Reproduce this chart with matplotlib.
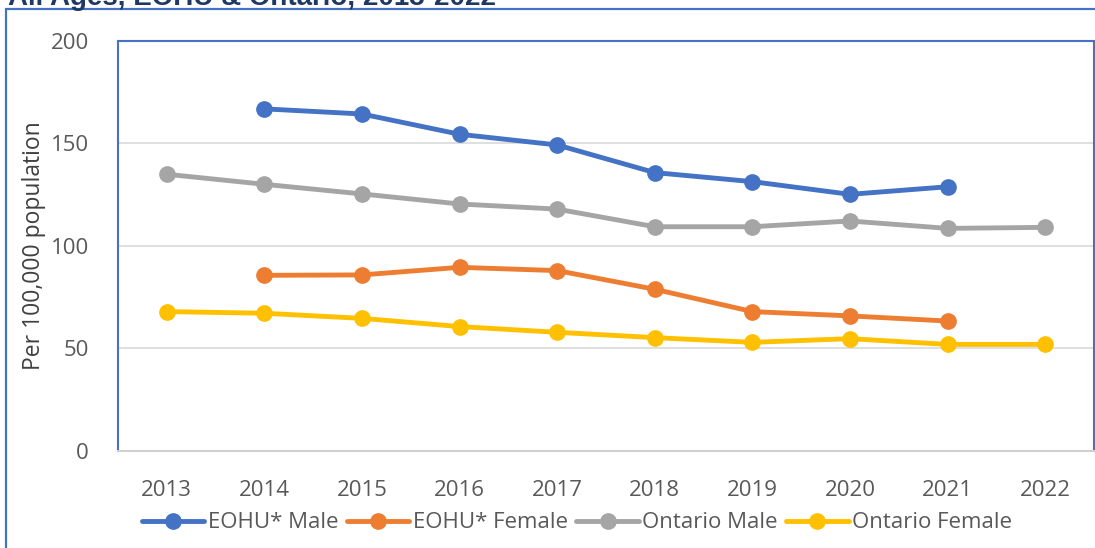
import matplotlib.pyplot as plt
from matplotlib.patches import Rectangle

# Rates per 100,000 population
years = [2013, 2014, 2015, 2016, 2017, 2018, 2019, 2020, 2021, 2022]
eohu_male = [None, 166.8, 164.3, 154.4, 149.2, 135.7, 131.3, 125.1, 128.8, None]
eohu_female = [None, 85.6, 85.8, 89.5, 87.9, 78.8, 67.9, 65.8, 63.3, None]
ontario_male = [134.9, 130.0, 125.3, 120.4, 117.9, 109.3, 109.3, 112.1, 108.5, 109.0]
ontario_female = [67.9, 67.1, 64.6, 60.6, 57.8, 55.2, 52.9, 54.7, 51.9, 51.9]

series = [
    ("EOHU* Male", eohu_male, "#4472C4"),
    ("EOHU* Female", eohu_female, "#ED7D31"),
    ("Ontario Male", ontario_male, "#A5A5A5"),
    ("Ontario Female", ontario_female, "#FFC000"),
]

plt.rcParams['font.family'] = ['Open Sans', 'DejaVu Sans']

W, H = 1095, 548
fig = plt.figure(figsize=(W / 100, H / 100), dpi=100)
ax = fig.add_axes([118 / W, (H - 450.8) / H, (1094 - 118) / W, (450.8 - 40.8) / H])

for name, vals, col in series:
    xs = [y for y, v in zip(years, vals) if v is not None]
    ys = [v for v in vals if v is not None]
    ax.plot(xs, ys, color=col, lw=3.5, marker='o', ms=11, label=name,
            solid_capstyle='round', zorder=3)

ax.set_xlim(2012.5, 2022.5)
ax.set_ylim(0, 200)
ax.set_xticks(years)
ax.set_yticks([0, 50, 100, 150, 200])
ax.tick_params(axis='both', length=0, labelsize=16, colors='#595959')
ax.tick_params(axis='x', pad=21)
ax.tick_params(axis='y', pad=21)
ax.grid(axis='y', color='#D9D9D9', lw=1.2, zorder=0)
ax.set_axisbelow(True)

for s in ['left', 'top', 'right']:
    ax.spines[s].set_color('#4472C4')
    ax.spines[s].set_linewidth(1.5)
ax.spines['bottom'].set_color('#D0D0D0')
ax.spines['bottom'].set_linewidth(1.5)

ax.set_ylabel("Per 100,000 population", fontsize=16.5, color='#404040')
ax.yaxis.set_label_coords(-72 / (1094 - 118), 0.5)

fig.legend(loc='center', bbox_to_anchor=(577 / W, (H - 523) / H), ncol=4,
           frameon=False, fontsize=16, handlelength=2.8, handletextpad=0.15,
           columnspacing=0.4, labelcolor='#595959')

# outer chart frame (partially cropped)
fig.patches.append(Rectangle((6 / W, -0.1), 1.2, (H - 9) / H + 0.1,
                             transform=fig.transFigure, fill=False,
                             edgecolor='#4472C4', lw=1.6))

# title, cut off at the top edge
fig.text(8 / W, (H - 5) / H, "All Ages, EOHU & Ontario, 2013-2022",
         fontsize=20, fontweight='bold', color='#1F3864',
         family=['Liberation Sans', 'DejaVu Sans'], va='baseline', ha='left')

fig.savefig("out.png", dpi=100)
